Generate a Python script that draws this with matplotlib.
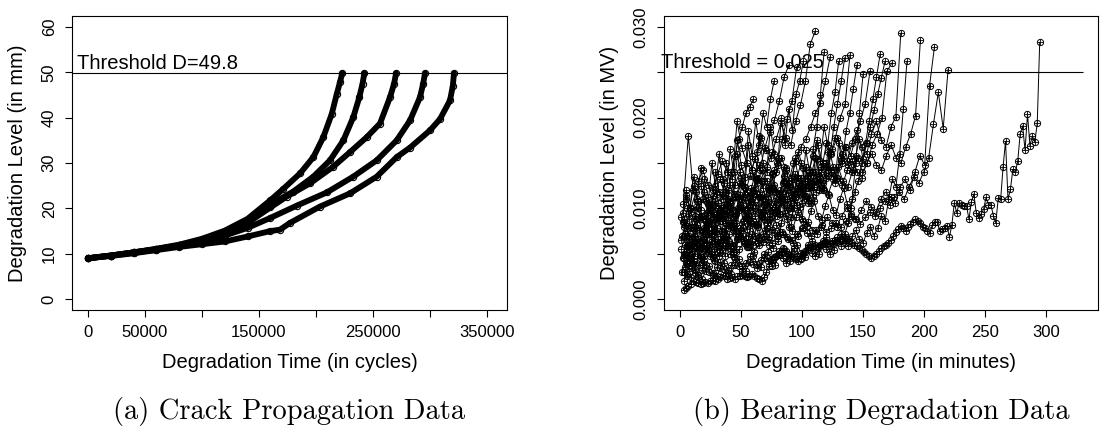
import numpy as np
import matplotlib
matplotlib.use("Agg")
import matplotlib.pyplot as plt

plt.rcParams['font.family'] = ['Liberation Sans', 'DejaVu Sans']

# ---- (a) crack propagation: cycles vs crack length (mm) ----
c1_x = [0, 20000, 40000, 60000, 80000, 100000, 120000, 140000, 160000, 171300,
        186000, 197700, 206400, 213800, 218200, 221000, 223000]
c1_y = [9.0, 9.6, 10.3, 11.1, 12.0, 13.3, 15.1, 17.7, 21.8, 24.3,
        27.7, 31.3, 35.7, 40.8, 45.2, 47.8, 49.8]
c2_x = [0, 20000, 40000, 60000, 80000, 100000, 120000, 140000, 160000, 180000,
        197700, 212300, 224000, 232700, 238000, 240800, 242400]
c2_y = [9.0, 9.6, 10.3, 11.0, 11.9, 13.1, 14.8, 17.2, 20.9, 23.7,
        27.0, 30.6, 35.0, 40.1, 44.5, 47.5, 49.8]
c3_x = [0, 20000, 40000, 60000, 80000, 100000, 120000, 140000, 160000, 174300,
        194700, 215200, 229800, 244500, 256100, 264900, 268500, 270200]
c3_y = [9.0, 9.6, 10.3, 11.0, 11.8, 12.9, 14.4, 16.8, 20.2, 22.6,
        25.5, 29.2, 32.4, 35.7, 38.7, 44.5, 47.5, 49.8]
c4_x = [0, 20000, 40000, 60000, 80000, 100000, 120000, 140000, 160000, 183100,
        209400, 232700, 253300, 270800, 282500, 291200, 294000, 295600]
c4_y = [9.0, 9.6, 10.2, 10.9, 11.7, 12.7, 14.0, 15.7, 17.9, 20.6,
        23.5, 27.0, 30.6, 35.0, 39.4, 44.5, 47.5, 49.8]
c5_x = [0, 20000, 40000, 60000, 80000, 100000, 120000, 140000, 160000, 168400,
        177200, 203500, 229800, 253300, 270800, 282500, 300000, 308800, 317500,
        320000, 321000]
c5_y = [9.0, 9.5, 10.1, 10.8, 11.5, 12.1, 12.7, 13.8, 15.0, 15.3,
        16.8, 20.4, 23.3, 27.0, 31.3, 33.4, 37.2, 39.7, 43.8, 47.0, 49.8]

crack_threshold = 49.8
crack_xticks = [0, 50000, 100000, 150000, 200000, 250000, 300000, 350000]
crack_xlabels = ['0', '50000', '', '150000', '', '250000', '', '350000']
crack_yticks = [0, 10, 20, 30, 40, 50, 60]

# ---- (b) bearing degradation: values in 1e-4 MV ----
# each unit sampled every bear_dt minutes, last sample at bear_end
b1 = [10, 12, 15, 17, 20, 19, 18, 17, 18, 19, 18, 20, 21, 20, 22, 24, 27, 25, 22, 23,
      24, 22, 25, 26, 27, 26, 24, 26, 28, 25, 23, 22, 20, 24,
      30, 36, 44, 46, 48, 50, 52, 55, 53, 50, 48, 46, 44, 42, 45, 50,
      52, 55, 57, 59, 60, 58, 60, 62, 63, 61, 62, 64, 65, 63, 64,
      66, 67, 66, 64, 62, 60, 58, 56, 54, 52, 50, 47, 45,
      47, 50, 53, 56, 58, 60, 62, 65, 70, 74, 77, 81,
      78, 75, 80, 83, 85, 88, 86, 84, 80, 78, 75, 73,
      82, 85, 85, 75, 77, 78, 81, 68, 82, 106, 95, 106, 104, 103, 103, 88, 107, 116,
      95, 89, 94, 99, 112, 104, 104, 92, 84, 111, 110, 146, 174, 110, 121, 143, 140,
      152, 182, 191, 164, 204, 169, 180, 173, 194, 283]
b2 = [60, 55, 62, 58, 65, 60, 55, 62, 68, 64, 58, 66, 70, 63, 60, 67, 72, 66, 62, 70,
      74, 68, 65, 72, 78, 73, 69, 76, 80, 74, 78, 84, 80, 86, 92, 88, 83, 90, 96, 92,
      100, 108, 104, 112, 118, 110, 124, 135, 128, 140, 155, 193, 228, 188, 253]
b3 = [40, 45, 38, 50, 55, 48, 42, 52, 58, 50, 46, 55, 62, 57, 52, 60, 66, 60, 56, 64,
      72, 66, 62, 70, 78, 85, 76, 72, 82, 90, 84, 80, 92, 100, 94, 88, 98, 108, 102, 96,
      110, 118, 112, 106, 124, 132, 120, 140, 158, 148, 235, 278]
b4 = [90, 84, 96, 102, 92, 88, 100, 108, 98, 94, 106, 114, 104, 98, 110, 120, 112, 105,
      118, 126, 116, 110, 124, 132, 122, 116, 130, 140, 128, 120, 136, 146, 134, 126,
      142, 152, 140, 134, 150, 160, 148, 142, 158, 170, 156, 150, 168, 182, 202, 285]
b5 = [110, 100, 118, 125, 108, 102, 120, 132, 115, 108, 126, 140, 122, 114, 135, 148,
      130, 120, 142, 155, 136, 128, 150, 162, 144, 136, 158, 170, 150, 142, 165, 178,
      160, 152, 172, 186, 168, 160, 182, 196, 175, 168, 190, 201, 293]
b6 = [70, 78, 66, 82, 90, 76, 72, 88, 96, 84, 80, 94, 104, 92, 86, 100, 112, 98, 94,
      108, 120, 106, 100, 116, 128, 114, 108, 124, 136, 122, 116, 132, 146, 130, 124,
      142, 156, 140, 150, 170, 182, 200, 251, 260]
b7 = [50, 58, 62, 54, 66, 72, 64, 60, 74, 82, 76, 70, 86, 94, 86, 80, 96, 106, 98, 92,
      110, 120, 112, 104, 124, 134, 124, 118, 140, 150, 140, 132, 156, 168, 158, 176,
      196, 215, 251]
b8 = [30, 36, 42, 38, 48, 54, 46, 58, 66, 58, 52, 68, 78, 70, 64, 82, 92, 84, 76, 96,
      108, 98, 90, 112, 126, 114, 106, 130, 146, 134, 160, 178, 200, 215, 269]
b9 = [80, 92, 86, 100, 110, 96, 90, 106, 118, 104, 98, 116, 130, 118, 110, 128, 142,
      130, 122, 140, 156, 142, 134, 152, 168, 176, 190, 205, 216, 240, 267]
b10 = [105, 180, 120, 130, 142, 126, 120, 138, 152, 140, 132, 196, 166, 150, 142, 162,
       178, 164, 156, 176, 194, 178, 170, 196, 214, 240, 281, 295]
b11 = [45, 60, 70, 62, 78, 86, 76, 92, 102, 90, 84, 100, 112, 100, 120, 134, 122, 146,
       162, 150, 176, 198, 218, 256]
b12 = [30, 42, 55, 62, 56, 72, 84, 74, 90, 104, 96, 112, 128, 116, 136, 154, 142, 166,
       184, 197, 218, 245, 258]
b13 = [30, 26, 34, 29, 24, 32, 38, 30, 27, 35, 41, 33, 29, 38, 44, 36, 31, 40, 47, 39,
       34, 43, 50, 42, 37, 46, 53, 45, 40, 49, 56, 48, 44, 53, 60, 51, 47, 57, 64, 55,
       50, 61, 68, 59, 72, 84, 110, 150, 205, 248]
b14 = [45, 52, 40, 48, 58, 46, 42, 55, 64, 50, 47, 60, 70, 56, 52, 66, 76, 62, 57, 72,
       82, 68, 63, 78, 88, 74, 69, 84, 95, 80, 75, 90, 102, 86, 81, 97, 108, 92, 87, 103,
       115, 98, 93, 110, 122, 105, 100, 118, 130, 150, 172, 196, 220, 245, 270]
b15 = [65, 82, 70, 60, 88, 76, 68, 95, 80, 72, 100, 86, 78, 108, 92, 84, 115, 98, 90,
       122, 104, 96, 130, 110, 102, 138, 118, 108, 146, 126, 115, 155, 134, 122, 164,
       142, 130, 175, 152, 190, 170, 205, 228, 262]
b16 = [95, 115, 100, 125, 108, 98, 132, 112, 104, 140, 118, 110, 150, 126, 116, 160,
       134, 124, 170, 142, 132, 180, 150, 140, 190, 160, 148, 200, 170, 210, 186, 226,
       240, 262]
b17 = [20, 28, 24, 33, 27, 22, 31, 37, 29, 25, 34, 40, 32, 28, 38, 44, 36, 31, 41, 48,
       39, 35, 45, 52, 43, 38, 49, 56, 47, 42, 53, 60, 51, 46, 57, 64, 55, 50, 61, 68,
       58, 54, 65, 72, 62, 58, 69, 76, 66, 62, 73, 80, 70, 78, 92, 86, 110, 132, 124, 160,
       210, 262]
b18 = [55, 72, 60, 50, 78, 64, 56, 84, 70, 62, 90, 75, 66, 96, 80, 72, 102, 86, 77, 108,
       92, 83, 115, 98, 88, 122, 104, 94, 130, 110, 100, 138, 118, 106, 146, 124, 112,
       154, 132, 120, 162, 140, 128, 172, 150, 185, 205, 232, 258]
b19 = [85, 120, 100, 135, 110, 145, 118, 105, 150, 125, 160, 132, 118, 165, 140, 175,
       148, 135, 185, 158, 196, 170, 205, 190, 220, 240]
b20 = [35, 48, 40, 56, 45, 38, 60, 50, 43, 66, 54, 47, 72, 60, 52, 78, 64, 57, 84, 70,
       62, 90, 76, 68, 96, 82, 74, 104, 88, 80, 112, 96, 88, 122, 140, 165, 190, 225, 272]
b21 = [70, 58, 80, 66, 90, 74, 62, 86, 96, 78, 70, 92, 104, 84, 76, 98, 110, 90, 82, 104,
       116, 96, 88, 110, 122, 102, 94, 116, 128, 108, 100, 122, 134, 114, 106, 128, 140,
       120, 150, 172, 160, 190, 215, 240, 266]
b22 = [85, 100, 78, 92, 108, 88, 80, 98, 114, 94, 86, 104, 120, 100, 92, 110, 126, 106,
       98, 116, 132, 112, 104, 122, 138, 118, 110, 128, 144, 124, 116, 134, 150, 130, 122,
       140, 156, 136, 128, 146, 162, 142, 134, 152, 168, 148, 140, 158, 176, 154, 172,
       190, 208, 226, 244, 262]
b23 = [50, 70, 58, 80, 66, 92, 76, 104, 88, 116, 98, 128, 110, 140, 158, 176, 190, 205,
       212, 220]

bear_series = [b1, b2, b3, b4, b5, b6, b7, b8, b9, b10, b11, b12,
               b13, b14, b15, b16, b17, b18, b19, b20, b21, b22, b23]
bear_end = [294.8, 219.7, 208.5, 197.0, 180.9, 173.5, 155.7, 139.3, 123.0, 110.7,
            95.6, 89.3, 150, 164, 130, 101, 186, 145, 77, 118, 135, 168, 60]
bear_dt = [2, 4, 4, 4, 4, 4, 4, 4, 4, 4, 4, 4,
           3, 3, 3, 3, 3, 3, 3, 3, 3, 3, 3]

bear_threshold = 0.025
bear_xticks = [0, 50, 100, 150, 200, 250, 300]
bear_yticks = [0.000, 0.005, 0.010, 0.015, 0.020, 0.025, 0.030]
bear_ylabels = ['0.000', '', '0.010', '', '0.020', '', '0.030']

W, H = 1100, 428
fig = plt.figure(figsize=(W / 100, H / 100), dpi=100)
ax1 = fig.add_axes([72 / W, 1 - 310 / H, 435 / W, 294 / H])
ax2 = fig.add_axes([664 / W, 1 - 310 / H, 434 / W, 294 / H])

tick_fs = 12
lab_fs = 14.5
thr_fs = 14.5
cap_fs = 20.5


def style_axes(ax):
    for s in ax.spines.values():
        s.set_linewidth(0.8)
    ax.tick_params(direction='out', length=5, width=0.8, labelsize=tick_fs, pad=6)
    ax.yaxis.set_label_coords(-0.126, 0.5)
    ax.xaxis.set_label_coords(0.5, -0.18)
    ax.xaxis.label.set_verticalalignment('center')
    ax.yaxis.label.set_verticalalignment('center')


# (a)
for xs, ys in [(c1_x, c1_y), (c2_x, c2_y), (c3_x, c3_y), (c4_x, c4_y), (c5_x, c5_y)]:
    ax1.plot(xs, ys, color='black', lw=4.2, solid_capstyle='round', zorder=2)
    ax1.plot(xs, ys, ls='none', marker='o', ms=4.5, mfc='none', mec='black', mew=0.8, zorder=3)
ax1.axhline(crack_threshold, color='black', lw=0.8, zorder=1)
ax1.text(61000, 50.7, 'Threshold D=49.8', ha='center', va='baseline', fontsize=thr_fs)
ax1.set_xlim(-14000, 367500)
ax1.set_ylim(-2.4, 62.4)
ax1.set_xticks(crack_xticks)
ax1.set_xticklabels(crack_xlabels)
ax1.set_yticks(crack_yticks)
ax1.set_yticklabels([str(v) for v in crack_yticks], rotation=90, va='center')
ax1.set_xlabel('Degradation Time (in cycles)', fontsize=lab_fs)
ax1.set_ylabel('Degradation Level (in mm)', fontsize=lab_fs)
style_axes(ax1)

# (b)
for vals, t_end, dt in zip(bear_series, bear_end, bear_dt):
    t = t_end - dt * np.arange(len(vals))[::-1]
    y = np.array(vals) * 1e-4
    ax2.plot(t, y, color='black', lw=0.7, marker='o', ms=4.5, mfc='none', mew=0.7)
    ax2.plot(t, y, ls='none', marker='+', ms=4.5, color='black', mew=0.6)
ax2.hlines(bear_threshold, 0, 330, color='black', lw=0.8)
ax2.text(51, 0.02546, 'Threshold = 0.025', ha='center', va='baseline', fontsize=thr_fs)
ax2.set_xlim(-13.2, 342.6)
ax2.set_ylim(-0.0012, 0.0312)
ax2.set_xticks(bear_xticks)
ax2.set_yticks(bear_yticks)
ax2.set_yticklabels(bear_ylabels, rotation=90, va='center')
ax2.set_xlabel('Degradation Time (in minutes)', fontsize=lab_fs)
ax2.set_ylabel('Degradation Level (in MV)', fontsize=lab_fs)
style_axes(ax2)

fig.text(289.5 / W, 1 - 412 / H, '(a) Crack Propagation Data', ha='center', va='center',
         family='cmr10', fontsize=cap_fs)
fig.text(881 / W, 1 - 412 / H, '(b) Bearing Degradation Data', ha='center', va='center',
         family='cmr10', fontsize=cap_fs)

fig.savefig('out.png', dpi=100)
